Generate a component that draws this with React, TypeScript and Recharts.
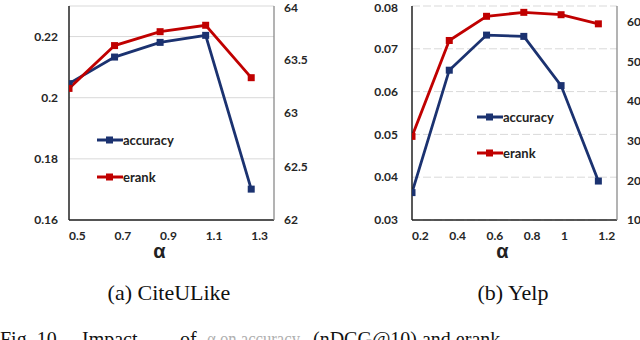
import { LineChart, Line, XAxis, YAxis, CartesianGrid, Legend } from "recharts";

// (a) CiteULike
const citeAlpha = [0.5, 0.7, 0.9, 1.1, 1.3];
const citeAccuracy = [0.2046, 0.2133, 0.2181, 0.2204, 0.1701];
const citeErank = [63.23, 63.63, 63.76, 63.82, 63.33];
const citeAccTicks = [0.16, 0.18, 0.2, 0.22];
const citeErankTicks = [62, 62.5, 63, 63.5, 64];

// (b) Yelp
const yelpAlpha = [0.2, 0.4, 0.6, 0.8, 1, 1.2];
const yelpAccuracy = [0.0364, 0.065, 0.0732, 0.0729, 0.0614, 0.0391];
const yelpErank = [31.1, 55.3, 61.4, 62.4, 61.8, 59.5];
const yelpAccTicks = [0.03, 0.04, 0.05, 0.06, 0.07, 0.08];
const yelpErankTicks = [10, 20, 30, 40, 50, 60];

const BLUE = "#1b3270";
const RED = "#c00000";
const SANS = "Lato, 'Liberation Sans', sans-serif";
const SERIF = "'Liberation Serif', 'Times New Roman', serif";
const tickStyle = { fontSize: 12, fontWeight: 700, fill: "#262626", fontFamily: SANS };

const squareDot = (color: string) => (p: any) => (
  <rect key={`d${p.index}`} x={p.cx - 3.5} y={p.cy - 3.5} width={7} height={7} fill={color} />
);

const AlphaTick = ({ x, y, payload }: any) => (
  <text x={x} y={y + 12} textAnchor="start" {...tickStyle}>
    {String(payload.value)}
  </text>
);

const alphaLabel = (props: any) => {
  const vb = props.viewBox || { x: 0, y: 0, width: 0 };
  return (
    <text x={vb.x + vb.width / 2 - 12} y={vb.y + 38} textAnchor="middle"
      fontSize={20} fontWeight={700} fill="#222" fontFamily="'Liberation Sans', sans-serif">
      α
    </text>
  );
};

const LegendRows = ({ payload, rowH }: any) => (
  <div>
    {(payload || []).map((p: any) => (
      <div key={p.value} style={{ display: "flex", alignItems: "center", height: rowH }}>
        <svg width={26} height={10}>
          <line x1={0} x2={26} y1={5} y2={5} stroke={p.color} strokeWidth={3} />
          <rect x={9} y={1.5} width={7} height={7} fill={p.color} />
        </svg>
        <span style={{ fontFamily: SANS, fontWeight: 700, fontSize: 13, color: "#222" }}>
          {p.value}
        </span>
      </div>
    ))}
  </div>
);

function Panel({
  alpha, accuracy, erank, xDomain, accDomain, accTicks, erankDomain, erankTicks,
  leftW, rightW, leftMargin, dashed, legendLeft, legendTop, rowH,
}: any) {
  const data = alpha.map((a: number, i: number) => ({ a, accuracy: accuracy[i], erank: erank[i] }));
  return (
    <LineChart width={320} height={260} data={data} margin={{ top: 6, right: 0, bottom: 0, left: 0 }}>
      <CartesianGrid yAxisId="acc" xAxisId="x" vertical={false} stroke="#d9d9d9"
        strokeDasharray={dashed ? "8 3" : undefined} />
      <XAxis xAxisId="x" dataKey="a" type="number" domain={xDomain} ticks={alpha}
        allowDataOverflow height={40} tickSize={0} tickMargin={8} tickLine={false}
        axisLine={{ stroke: "#222", strokeWidth: 1.5 }} tick={<AlphaTick />} label={alphaLabel} />
      <XAxis xAxisId="top" orientation="top" type="number" domain={[0, 1]} height={0}
        tick={false} tickLine={false} axisLine={{ stroke: "#8a8a8a", strokeWidth: 1.3 }} />
      <YAxis yAxisId="acc" type="number" domain={accDomain} ticks={accTicks} allowDataOverflow
        width={leftW} tickSize={0} tickMargin={leftMargin} tickLine={false}
        axisLine={{ stroke: "#222", strokeWidth: 1.5 }} tick={tickStyle} tickFormatter={(v) => String(v)} />
      <YAxis yAxisId="erank" orientation="right" type="number" domain={erankDomain} ticks={erankTicks}
        allowDataOverflow width={rightW} tickSize={0} tickMargin={10} tickLine={false}
        axisLine={{ stroke: "#8a8a8a", strokeWidth: 1.3 }} tick={{ ...tickStyle, textAnchor: "start" }}
        tickFormatter={(v) => String(v)} />
      <Legend layout="vertical" align="center" verticalAlign="middle"
        wrapperStyle={{ left: legendLeft, top: legendTop, width: 110, height: rowH * 2 }}
        content={(props: any) => <LegendRows payload={props.payload} rowH={rowH} />} />
      <Line xAxisId="x" yAxisId="acc" dataKey="accuracy" name="accuracy" stroke={BLUE} strokeWidth={2.8}
        dot={squareDot(BLUE)} activeDot={false} isAnimationActive={false} />
      <Line xAxisId="x" yAxisId="erank" dataKey="erank" name="erank" stroke={RED} strokeWidth={2.8}
        dot={squareDot(RED)} activeDot={false} isAnimationActive={false} />
    </LineChart>
  );
}

export default function App() {
  return (
    <div style={{ position: "absolute", left: 0, top: 0, width: 640, height: 340, overflow: "hidden", background: "#fff" }}>
      <svg width={640} height={340} style={{ position: "absolute", left: 0, top: 0 }}>
        <text x={169} y={300} textAnchor="middle" fontSize={22} fontFamily={SERIF} fill="#111">(a) CiteULike</text>
        <text x={513} y={300} textAnchor="middle" fontSize={22} fontFamily={SERIF} fill="#111">(b) Yelp</text>
        {/* figure caption, cut by the bottom edge as in the source */}
        <text y={346} fontSize={20} fontFamily={SERIF} fill="#111">
          <tspan x={0}>Fig. 10.</tspan>
          <tspan x={82}>Impact</tspan>
          <tspan x={180}>of</tspan>
          <tspan x={207} fill="#b0b0b0" textLength={93} lengthAdjust="spacingAndGlyphs">α on accuracy</tspan>
          <tspan x={313}>(nDCG@10) and erank.</tspan>
        </text>
      </svg>
      <div style={{ position: "absolute", left: 0, top: 0 }}>
        <Panel alpha={citeAlpha} accuracy={citeAccuracy} erank={citeErank}
          xDomain={[0.5, 1.4]} accDomain={[0.16, 0.23]} accTicks={citeAccTicks}
          erankDomain={[62, 64]} erankTicks={citeErankTicks}
          leftW={69} rightW={46} leftMargin={11} dashed={false}
          legendLeft={97} legendTop={121.5} rowH={37} />
      </div>
      <div style={{ position: "absolute", left: 320, top: 0 }}>
        <Panel alpha={yelpAlpha} accuracy={yelpAccuracy} erank={yelpErank}
          xDomain={[0.2, 1.3]} accDomain={[0.03, 0.08]} accTicks={yelpAccTicks}
          erankDomain={[10, 64]} erankTicks={yelpErankTicks}
          leftW={92} rightW={23} leftMargin={14} dashed={true}
          legendLeft={157} legendTop={98.4} rowH={36.6} />
      </div>
    </div>
  );
}
